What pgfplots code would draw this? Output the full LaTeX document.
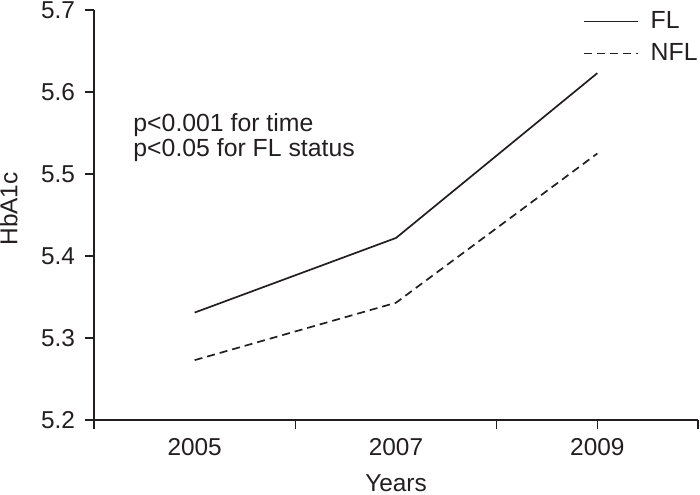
\documentclass[border=0pt]{standalone}
\usepackage{pgfplots}
\pgfplotsset{compat=1.18}
\usepackage{fontspec}
\setmainfont{Liberation Sans}
\definecolor{ink}{HTML}{231F20}
\begin{document}
\begin{tikzpicture}
\begin{axis}[
  scale only axis, width=302pt, height=205pt,
  xmin=0, xmax=3, ymin=5.2, ymax=5.7,
  axis lines=left, axis line style={-, ink, line width=0.8pt},
  xtick={0,1,2,2.5,3}, xticklabels={},
  extra x ticks={0.5,1.5,2.5}, extra x tick labels={2005,2007,2009},
  extra x tick style={major tick length=0pt, xticklabel style={yshift=-5.8pt}},
  ytick={5.2,5.3,5.4,5.5,5.6,5.7},
  yticklabel style={/pgf/number format/fixed, /pgf/number format/precision=1,
    /pgf/number format/fixed zerofill, xshift=-1.5pt},
  /pgf/number format/assume math mode=true,
  tick align=outside, major tick length=4.5pt,
  tick style={ink, line width=0.8pt},
  tick label style={font=\fontsize{12.2}{15}\selectfont, text=ink},
  label style={font=\fontsize{12.2}{15}\selectfont, text=ink},
  xlabel={Years}, ylabel={HbA1c},
  xlabel style={at={(axis description cs:0.5,0)}, anchor=north, yshift=-27pt, inner sep=0pt},
  ylabel style={at={(axis description cs:-0.1258,0.515)}, anchor=south, inner sep=0pt},
  legend style={at={(1,1)}, anchor=north east, xshift=2pt, yshift=1.5pt, draw=none, fill=none,
    inner sep=0pt, font=\fontsize{12.4}{15}\selectfont, text=ink, row sep=2pt, column sep=4pt},
  legend cell align=left,
  legend image code/.code={\draw[#1] (0pt,0pt) -- (27pt,0pt);},
  clip=false,
]
\addplot[ink, line width=0.85pt] coordinates {(0.5,5.331)(1.5,5.422)(2.5,5.623)};
\addlegendentry{FL}
\addplot[ink, line width=0.85pt, dash pattern=on 4pt off 2.5pt] coordinates {(0.5,5.273)(1.5,5.343)(2.5,5.525)};
\addlegendentry{NFL}
\node[anchor=base west, text=ink, font=\fontsize{12.4}{15}\selectfont, inner sep=0pt] at (axis cs:0.194,5.552) {p<0.001 for time};
\node[anchor=base west, text=ink, font=\fontsize{12.4}{15}\selectfont, inner sep=0pt] at (axis cs:0.194,5.5216) {p<0.05 for FL status};
\end{axis}
\pgfresetboundingbox
\path ([shift={(-47pt,-37.5pt)}]current axis.south west) rectangle ([shift={(1pt,5pt)}]current axis.north east);
\end{tikzpicture}
\end{document}
